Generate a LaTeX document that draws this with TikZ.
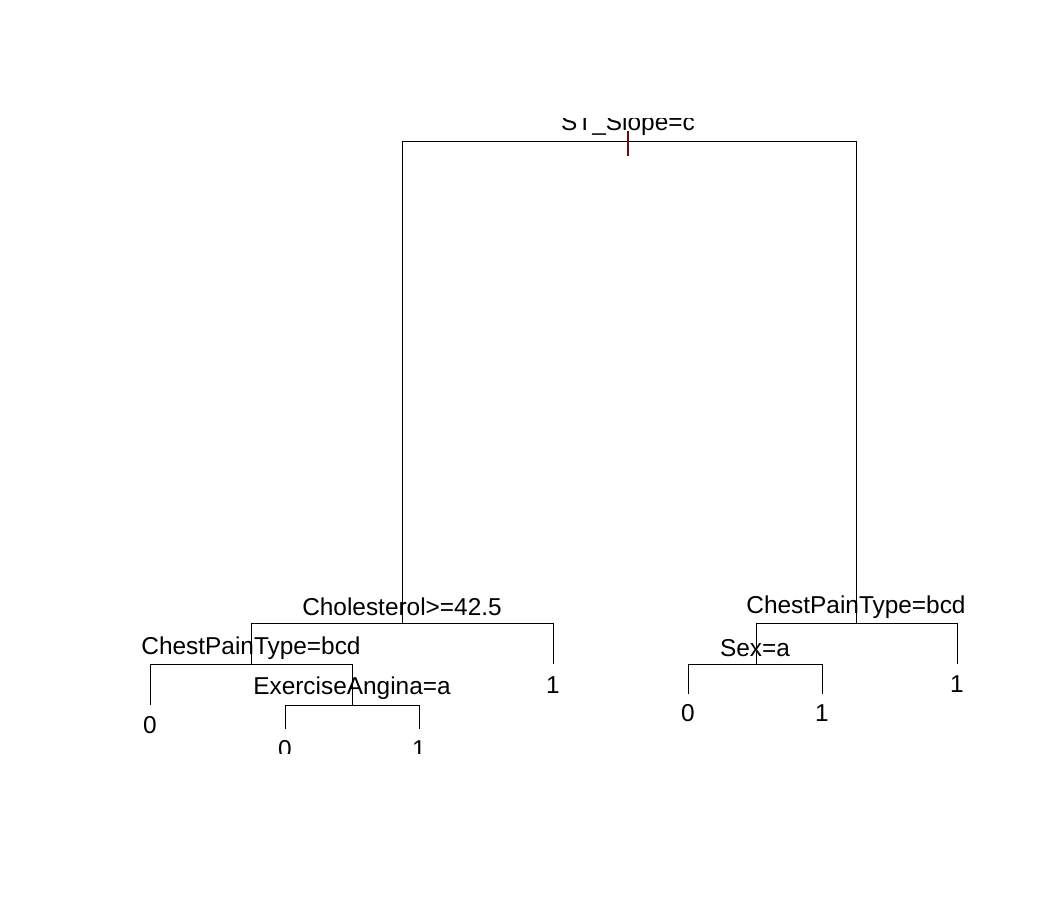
\documentclass[tikz,border=0pt]{standalone}
\usepackage{fontspec}
\setmainfont{Liberation Sans}
\definecolor{tickred}{RGB}{100,15,15}
\begin{document}
\begin{tikzpicture}[x=1bp,y=-1bp,
  branch/.style={line width=1bp,black},
  lbl/.style={anchor=base,inner sep=0pt,font=\fontsize{24.5}{30}\selectfont},
  marktick/.style={line width=1.8bp,tickred}]
\useasboundingbox[fill=white] (0,0) rectangle (1050,900);
\begin{scope}
\clip (0,118) rectangle (1050,753);
% split points
\coordinate (root) at (628,141);
\coordinate (chol) at (402,623);
\coordinate (cpR)  at (856,623);
\coordinate (cpL)  at (251,664);
\coordinate (leafA) at (553,664);
\coordinate (leafB) at (150,705);
\coordinate (ex)   at (352,705);
\coordinate (leafC) at (285,729);
\coordinate (leafD) at (419,729);
\coordinate (sex)  at (756,664);
\coordinate (leafE) at (957,664);
\coordinate (leafF) at (688,694);
\coordinate (leafG) at (822,694);
% branches
\draw[branch] (chol) -- (chol |- root) -- (cpR |- root) -- (cpR);
\draw[branch] (cpL) -- (cpL |- chol) -- (leafA |- chol) -- (leafA);
\draw[branch] (leafB) -- (leafB |- cpL) -- (ex |- cpL) -- (ex);
\draw[branch] (leafC) -- (leafC |- ex) -- (leafD |- ex) -- (leafD);
\draw[branch] (sex) -- (sex |- cpR) -- (leafE |- cpR) -- (leafE);
\draw[branch] (leafF) -- (leafF |- sex) -- (leafG |- sex) -- (leafG);
% labels
\node[lbl] (tRoot) at (628,130) {ST\_Slope=c};
\node[lbl] (tChol) at (402,615) {Cholesterol>=42.5};
\node[lbl] (tCpL) at (251,654) {ChestPainType=bcd};
\node[lbl] (tEx) at (352,694) {ExerciseAngina=a};
\node[lbl] (tA) at (553,693) {1};
\node[lbl] (tB) at (150,733) {0};
\node[lbl] (tC) at (285,757) {0};
\node[lbl] (tD) at (419,757) {1};
\node[lbl] (tCpR) at (856,613) {ChestPainType=bcd};
\node[lbl] (tSex) at (755,656) {Sex=a};
\node[lbl] (tE) at (957,692) {1};
\node[lbl] (tF) at (688,721) {0};
\node[lbl] (tG) at (822,721) {1};
% tick
\coordinate (tickTop) at (628,131);
\coordinate (tickBot) at (628,156);
\draw[marktick] (tickTop) -- (tickBot);
\end{scope}
\end{tikzpicture}
\end{document}
